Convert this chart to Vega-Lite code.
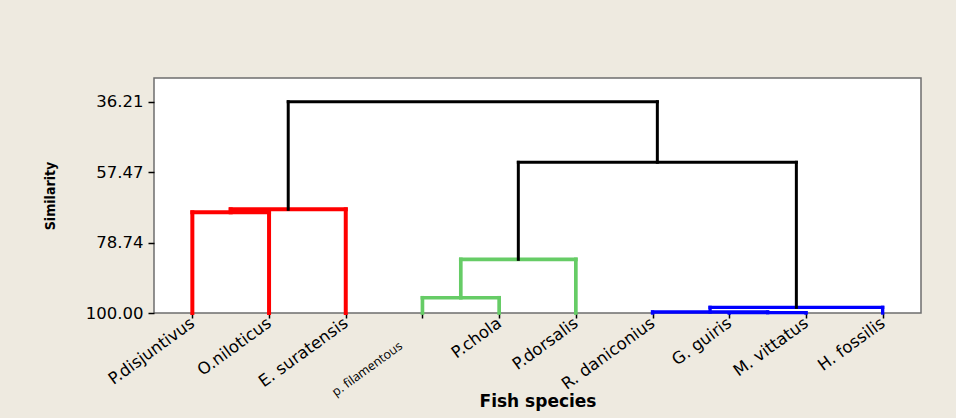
{
  "$schema": "https://vega.github.io/schema/vega-lite/v6.json",
  "width": 767,
  "height": 235,
  "autosize": "none",
  "padding": {"left": 154, "top": 78, "right": 35, "bottom": 105},
  "background": "#eeeae0",
  "config": {
    "view": {"fill": "white", "stroke": "#6e6e6e", "strokeWidth": 1.5}
  },
  "data": {
    "values": [
      {"x1": 1, "x2": 1, "y1": 100, "y2": 69.6, "cluster": "Cluster 1"},
      {"x1": 2, "x2": 2, "y1": 100, "y2": 69.6, "cluster": "Cluster 1"},
      {"x1": 1, "x2": 2, "y1": 69.6, "y2": 69.6, "cluster": "Cluster 1"},
      {"x1": 1.5, "x2": 1.5, "y1": 69.6, "y2": 68.7, "cluster": "Cluster 1"},
      {"x1": 3, "x2": 3, "y1": 100, "y2": 68.7, "cluster": "Cluster 1"},
      {"x1": 1.5, "x2": 3, "y1": 68.7, "y2": 68.7, "cluster": "Cluster 1"},
      {"x1": 4, "x2": 4, "y1": 100, "y2": 95.4, "cluster": "Cluster 2"},
      {"x1": 5, "x2": 5, "y1": 100, "y2": 95.4, "cluster": "Cluster 2"},
      {"x1": 4, "x2": 5, "y1": 95.4, "y2": 95.4, "cluster": "Cluster 2"},
      {"x1": 4.5, "x2": 4.5, "y1": 95.4, "y2": 83.8, "cluster": "Cluster 2"},
      {"x1": 6, "x2": 6, "y1": 100, "y2": 83.8, "cluster": "Cluster 2"},
      {"x1": 4.5, "x2": 6, "y1": 83.8, "y2": 83.8, "cluster": "Cluster 2"},
      {"x1": 8, "x2": 8, "y1": 100, "y2": 99.9, "cluster": "Cluster 3"},
      {"x1": 9, "x2": 9, "y1": 100, "y2": 99.9, "cluster": "Cluster 3"},
      {"x1": 8, "x2": 9, "y1": 99.9, "y2": 99.9, "cluster": "Cluster 3"},
      {"x1": 7, "x2": 7, "y1": 100, "y2": 99.7, "cluster": "Cluster 3"},
      {"x1": 8.5, "x2": 8.5, "y1": 99.9, "y2": 99.7, "cluster": "Cluster 3"},
      {"x1": 7, "x2": 8.5, "y1": 99.7, "y2": 99.7, "cluster": "Cluster 3"},
      {"x1": 7.75, "x2": 7.75, "y1": 99.7, "y2": 98.3, "cluster": "Cluster 3"},
      {"x1": 10, "x2": 10, "y1": 100, "y2": 98.3, "cluster": "Cluster 3"},
      {"x1": 7.75, "x2": 10, "y1": 98.3, "y2": 98.3, "cluster": "Cluster 3"},
      {"x1": 5.25, "x2": 5.25, "y1": 83.8, "y2": 54.5, "cluster": "Link"},
      {"x1": 8.875, "x2": 8.875, "y1": 98.3, "y2": 54.5, "cluster": "Link"},
      {"x1": 5.25, "x2": 8.875, "y1": 54.5, "y2": 54.5, "cluster": "Link"},
      {"x1": 2.25, "x2": 2.25, "y1": 68.7, "y2": 36.21, "cluster": "Link"},
      {"x1": 7.0625, "x2": 7.0625, "y1": 54.5, "y2": 36.21, "cluster": "Link"},
      {"x1": 2.25, "x2": 7.0625, "y1": 36.21, "y2": 36.21, "cluster": "Link"}
    ]
  },
  "mark": {"type": "rule", "strokeCap": "square"},
  "encoding": {
    "x": {
      "field": "x1",
      "type": "quantitative",
      "scale": {"domain": [0.5, 10.5], "nice": false, "zero": false},
      "axis": {
        "title": "Fish species",
        "titleFont": "DejaVu Sans",
        "titleFontWeight": "bold",
        "titleFontSize": 17,
        "titleColor": "black",
        "titleX": 383.5,
        "titleY": 88,
        "titleBaseline": "middle",
        "values": [1, 2, 3, 4, 5, 6, 7, 8, 9, 10],
        "labelExpr": "['', 'P.disjuntivus', 'O.niloticus', 'E. suratensis', 'p. filamentous', 'P.chola', 'P.dorsalis', 'R. daniconius', 'G. guiris', 'M. vittatus', 'H. fossilis'][datum.value]",
        "labelAngle": -36,
        "labelAlign": "right",
        "labelBaseline": "middle",
        "labelFont": {"condition": {"test": "datum.value == 4", "value": "Open Sans"}, "value": "DejaVu Sans"},
        "labelFontSize": {"condition": {"test": "datum.value == 4", "value": 12.5}, "value": 16.5},
        "labelPadding": {"condition": {"test": "datum.value == 4", "value": 26}, "value": 3},
        "labelOffset": {"condition": {"test": "datum.value == 4", "value": -22}, "value": 0},
        "labelColor": "black",
        "labelOverlap": false,
        "labelBound": false,
        "tickColor": "black",
        "tickSize": 5,
        "tickWidth": 1.5,
        "domain": false,
        "grid": false
      }
    },
    "x2": {"field": "x2"},
    "y": {
      "field": "y1",
      "type": "quantitative",
      "scale": {"domain": [29.05, 100], "reverse": true, "nice": false, "zero": false},
      "axis": {
        "title": "Similarity",
        "titleFont": "DejaVu Sans Condensed",
        "titleFontWeight": "bold",
        "titleFontSize": 14,
        "titleColor": "black",
        "titleAngle": 270,
        "titleX": -104,
        "titleY": 117.5,
        "titleAlign": "center",
        "titleBaseline": "middle",
        "values": [36.21, 57.47, 78.74, 100],
        "format": ".2f",
        "labelFont": "DejaVu Sans",
        "labelFontSize": 16.5,
        "labelColor": "black",
        "labelPadding": 5,
        "tickColor": "black",
        "tickSize": 6,
        "tickWidth": 1.5,
        "domain": false,
        "grid": false
      }
    },
    "y2": {"field": "y2"},
    "color": {
      "field": "cluster",
      "type": "nominal",
      "scale": {"domain": ["Cluster 1", "Cluster 2", "Cluster 3", "Link"], "range": ["#ff0000", "#66cc66", "#0000ff", "#000000"]},
      "legend": null
    },
    "strokeWidth": {
      "field": "cluster",
      "type": "nominal",
      "scale": {"domain": ["Cluster 1", "Cluster 2", "Cluster 3", "Link"], "range": [4, 3, 3.5, 3.5]},
      "legend": null
    }
  }
}
